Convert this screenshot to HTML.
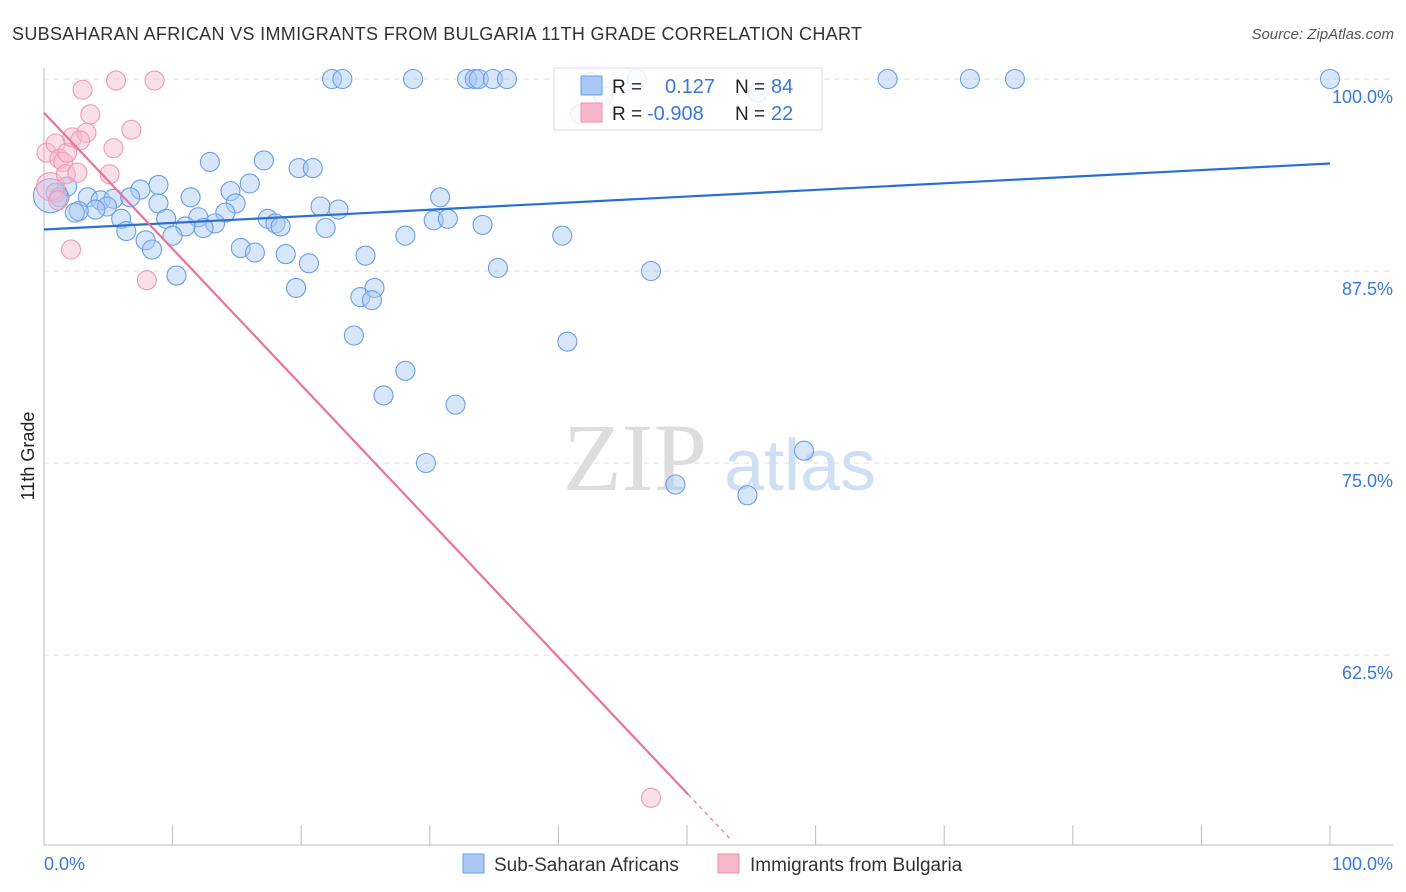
<!DOCTYPE html>
<html><head><meta charset="utf-8"><style>
body{margin:0;background:#fff;font-family:"Liberation Sans",sans-serif}
svg{display:block}
</style></head><body>
<svg id="c" width="1406" height="892">
<text x="12" y="40" font-size="18" fill="#333" textLength="850">SUBSAHARAN AFRICAN VS IMMIGRANTS FROM BULGARIA 11TH GRADE CORRELATION CHART</text>
<text x="1394" y="39" font-size="15" fill="#555" font-style="italic" text-anchor="end">Source: ZipAtlas.com</text>
<text x="0" y="0" transform="translate(34,456) rotate(-90)" font-size="18" fill="#222" text-anchor="middle">11th Grade</text>
<g><text x="635" y="490" font-size="96" fill="#ddd" font-family="Liberation Serif" text-anchor="middle">ZIP</text><text x="800" y="490" font-size="72" fill="#cfe0f5" text-anchor="middle">atlas</text></g>
<g id="grid"></g><g id="axes"></g><g id="pts"></g><g id="trend"></g>
<g>
<rect x="554" y="68" width="268" height="62" fill="#fff" fill-opacity="0.85" stroke="#ddd"/>
<rect x="581" y="76" width="21" height="19" fill="#a9c8f3" stroke="#6a9ee6"/>
<rect x="581" y="103" width="21" height="19" fill="#f7b7cb" stroke="#ee8fae"/>
<text x="612" y="93" font-size="19" fill="#222">R =</text><text x="665" y="93" font-size="20" fill="#3a78d8">0.127</text>
<text x="735" y="93" font-size="19" fill="#222">N =</text><text x="771" y="93" font-size="20" fill="#3a78d8">84</text>
<text x="612" y="120" font-size="19" fill="#222">R =</text><text x="647" y="120" font-size="20" fill="#3a78d8">-0.908</text>
<text x="735" y="120" font-size="19" fill="#222">N =</text><text x="771" y="120" font-size="20" fill="#3a78d8">22</text>
</g>
<g>
<rect x="463" y="854" width="21" height="19" fill="#a9c8f3" stroke="#6a9ee6"/>
<text x="494" y="871" font-size="19" fill="#333">Sub-Saharan Africans</text>
<rect x="718" y="854" width="21" height="19" fill="#f7b7cb" stroke="#ee8fae"/>
<text x="750" y="871" font-size="19" fill="#333">Immigrants from Bulgaria</text>
</g>
</svg>
<script>
const blueX=[22.4,23.2,28.7,32.9,33.5,33.8,34.9,36.0,65.6,72.0,75.5,100,46.1,42.5,55.5,43.5,41.7,12.9,17.1,19.8,20.9,16.0,14.5,8.9,7.5,1.8,0.9,1.2,3.4,4.4,5.4,6.7,4.9,4.0,2.7,2.4,11.4,8.9,14.9,14.1,12.0,9.5,6.0,17.4,18.0,18.4,13.3,12.4,11.0,6.4,10.0,7.9,8.4,15.3,16.4,18.8,21.5,22.9,21.9,30.8,30.3,31.4,34.1,28.1,40.3,25.0,20.6,35.3,47.2,10.3,19.6,24.6,25.7,25.5,24.1,40.7,28.1,26.4,32.0,29.7,59.1,49.1,54.7,0.5];
const blueY=[100,100,100,100,100,100,100,100,100,100,100,100,100,99.8,99.1,98.9,97.7,94.6,94.7,94.2,94.2,93.2,92.7,93.1,92.8,93.0,92.6,92.3,92.3,92.1,92.2,92.3,91.7,91.5,91.4,91.3,92.3,91.9,91.9,91.3,91.0,90.9,90.9,90.9,90.6,90.4,90.6,90.3,90.4,90.1,89.8,89.5,88.9,89.0,88.7,88.6,91.7,91.5,90.3,92.3,90.8,90.9,90.5,89.8,89.8,88.5,88.0,87.7,87.5,87.2,86.4,85.8,86.4,85.6,83.3,82.9,81.0,79.4,78.8,75.0,75.8,73.6,72.9,92.4];
const pinkX=[0.2,0.5,0.9,1.2,1.5,1.8,1.7,2.2,2.6,3.0,3.3,3.6,2.8,5.6,8.6,6.8,5.4,5.1,2.1,8.0,47.2,1.1];
const pinkY=[95.2,93.0,95.8,94.8,94.6,95.2,93.8,96.2,93.9,99.3,96.5,97.7,96.0,99.9,99.9,96.7,95.5,93.8,88.9,86.9,53.2,92.1];
const yTicks=[100,87.5,75,62.5];
const xTickLabels=["0.0%","100.0%"];
const blueTrend=[90.2,94.5];
const pinkTrend=[97.8,-0.886];
const NS="http://www.w3.org/2000/svg";
const X0=44,X1=1330,YT=79,YB=655;
const sx=v=>X0+(X1-X0)*v/100;
const sy=v=>YT+(100-v)*(YB-YT)/37.5;
function mk(t,a,p){const e=document.createElementNS(NS,t);for(const k in a)e.setAttribute(k,a[k]);p.appendChild(e);return e;}
const grid=document.getElementById('grid'),axes=document.getElementById('axes'),pts=document.getElementById('pts'),tr=document.getElementById('trend');
yTicks.forEach(v=>{
 const l=mk('line',{x1:X0,x2:1393,y1:sy(v),y2:sy(v),stroke:'#ddd','stroke-dasharray':'5,5'},grid);
 
 
 const t=mk('text',{x:1393,y:sy(v)+24,'font-size':18,fill:'#3a78d8','text-anchor':'end'},grid);
 t.textContent=v.toFixed(1)+'%';
 
 
});
mk('line',{x1:X0,x2:X0,y1:68,y2:845,stroke:'#bbb'},axes);
mk('line',{x1:X0,x2:1393,y1:845,y2:845,stroke:'#bbb'},axes);
for(let i=0;i<=10;i++){const l=mk('line',{x1:sx(i*10),x2:sx(i*10),y1:825,y2:845,stroke:'#bbb'},axes);
 
 }
const tl=mk('text',{x:44,y:870,'font-size':18,fill:'#3a78d8'},axes);tl.textContent=xTickLabels[0];


const tr2=mk('text',{x:1393,y:870,'font-size':18,fill:'#3a78d8','text-anchor':'end'},axes);tr2.textContent=xTickLabels[1];


blueX.forEach((x,i)=>{const c=mk('circle',{cx:sx(x),cy:sy(blueY[i]),r:i==blueX.length-1?17:9.5,fill:'#a9c8f3','fill-opacity':0.45,stroke:'#6a9ee6','stroke-width':1.1},pts);
 
 });
pinkX.forEach((x,i)=>{const c=mk('circle',{cx:sx(x),cy:sy(pinkY[i]),r:i==1?14:9.5,fill:'#f7b7cb','fill-opacity':0.45,stroke:'#ef9ab6','stroke-width':1.1},pts);
 
 });
const bl=mk('line',{x1:sx(0),y1:sy(blueTrend[0]),x2:sx(100),y2:sy(blueTrend[1]),stroke:'#2a6fd6','stroke-width':2.2},tr);


const pf=x=>pinkTrend[0]+pinkTrend[1]*x;
const pl=mk('line',{x1:sx(0),y1:sy(pf(0)),x2:sx(50.1),y2:sy(pf(50.1)),stroke:'#e8739b','stroke-width':2.2},tr);


const pd=mk('line',{x1:sx(50.1),y1:sy(pf(50.1)),x2:sx(53.4),y2:sy(pf(53.4)),stroke:'#e8739b','stroke-width':1.2,'stroke-dasharray':'4,4'},tr);


</script>
</body></html>
